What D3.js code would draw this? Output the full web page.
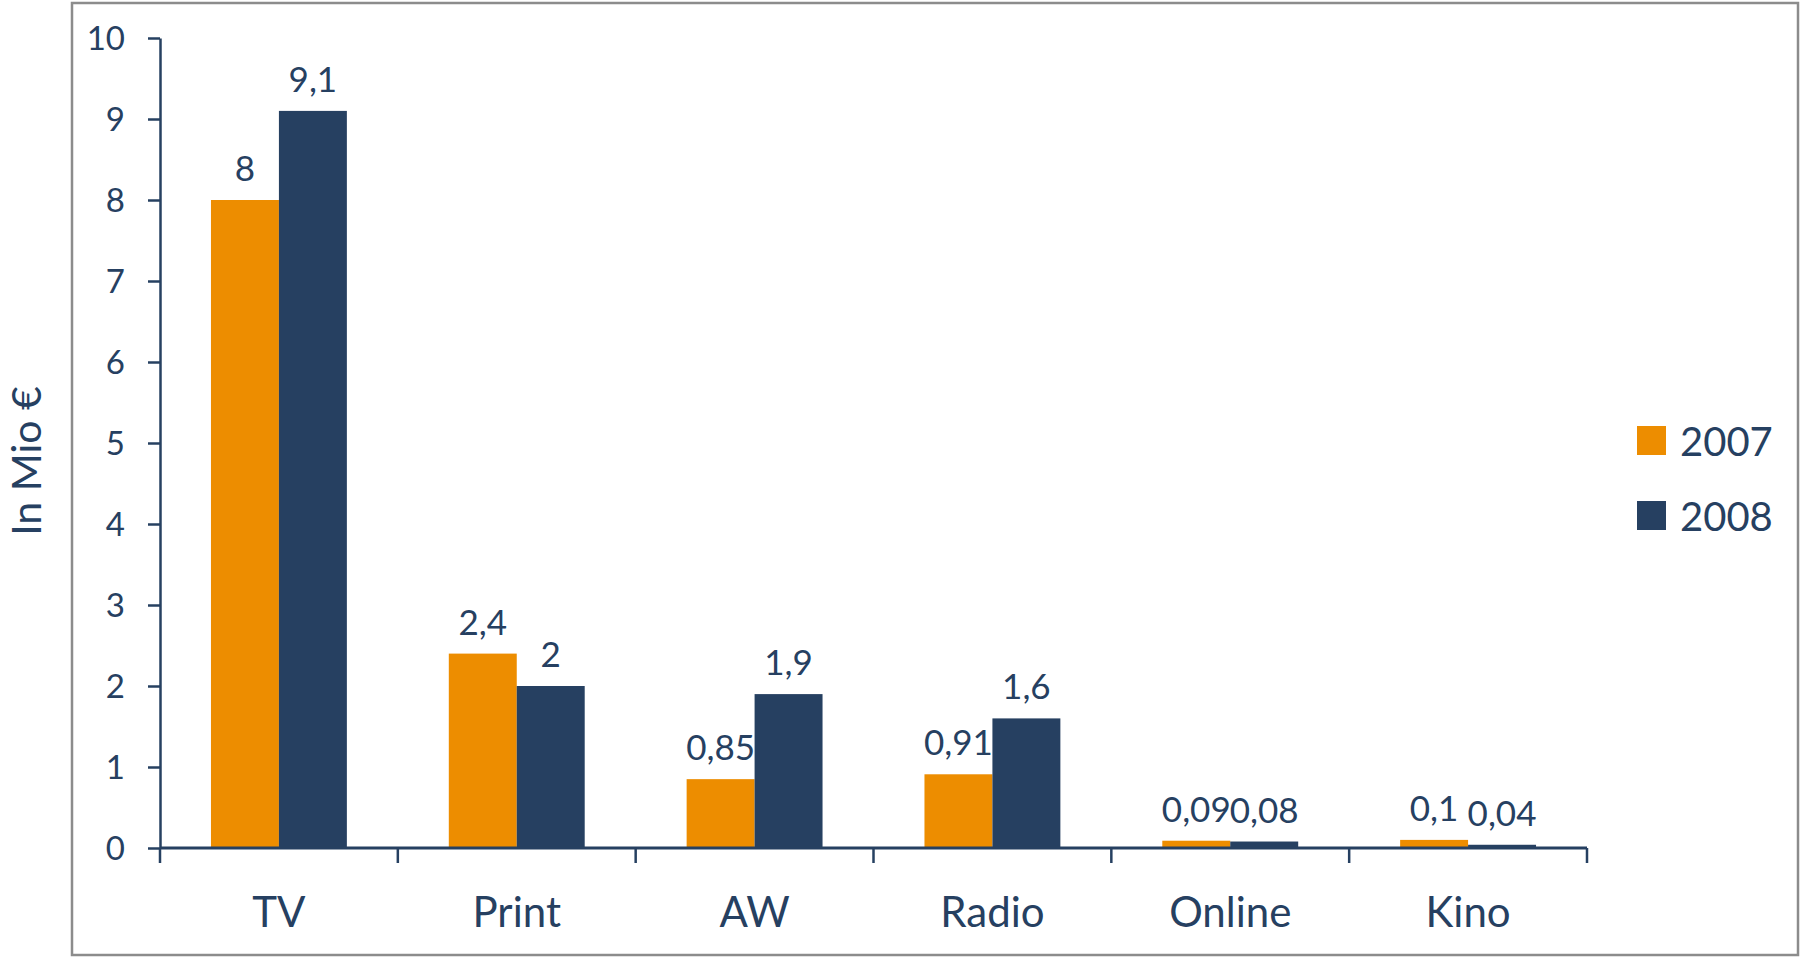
<!DOCTYPE html>
<html>
<head>
<meta charset="utf-8">
<style>
  body { margin: 0; background: #fff; }
  text { font-family: Lato, "Open Sans", sans-serif; fill: #264061; }
</style>
</head>
<body>
<script src="https://d3js.org/d3.v7.min.js"></script>
<script>
var categories = ["TV", "Print", "AW", "Radio", "Online", "Kino"];
var years = ["2007", "2008"];
var values2007 = [8, 2.4, 0.85, 0.91, 0.09, 0.1];
var values2008 = [9.1, 2, 1.9, 1.6, 0.08, 0.04];
var yTicks = [0, 1, 2, 3, 4, 5, 6, 7, 8, 9, 10];

var colors = {"2007": "#ed8d00", "2008": "#264061"};
var ink = "#264061";

var W = 1800, H = 957;
var plot = {left: 160, right: 1587, top: 38, bottom: 848};

var svg = d3.select("body").append("svg")
    .attr("width", W)
    .attr("height", H);

// outer frame
svg.append("rect")
    .attr("x", 72).attr("y", 3)
    .attr("width", 1726).attr("height", 952)
    .attr("fill", "#fff")
    .attr("stroke", "#8c8c8c")
    .attr("stroke-width", 2.5);

var x0 = d3.scaleBand().domain(categories).range([plot.left, plot.right]);
var x1 = d3.scaleBand().domain(years).range([0, x0.bandwidth()]).paddingOuter(0.75);
var y = d3.scaleLinear().domain([0, 10]).range([plot.bottom, plot.top]);

var fmt = d3.formatLocale({decimal: ",", thousands: ".", grouping: [3], currency: ["", "€"]}).format(".2~f");

var rows = categories.map(function(c, i) {
    return {cat: c, vals: [{year: "2007", v: values2007[i]}, {year: "2008", v: values2008[i]}]};
});

// bars
var groups = svg.selectAll("g.cat").data(rows).enter().append("g")
    .attr("class", "cat")
    .attr("transform", function(d) { return "translate(" + x0(d.cat) + ",0)"; });

groups.selectAll("rect").data(function(d) { return d.vals; }).enter().append("rect")
    .attr("x", function(d) { return x1(d.year); })
    .attr("y", function(d) { return y(d.v); })
    .attr("width", x1.bandwidth())
    .attr("height", function(d) { return y(0) - y(d.v); })
    .attr("fill", function(d) { return colors[d.year]; });

// value labels
groups.selectAll("text.val").data(function(d) { return d.vals; }).enter().append("text")
    .attr("class", "val")
    .attr("x", function(d) { return x1(d.year) + x1.bandwidth() / 2; })
    .attr("y", function(d) { return y(d.v) - 19; })
    .attr("text-anchor", "middle")
    .style("font-size", "35px")
    .text(function(d) { return fmt(d.v); });

// y axis
var yAxis = d3.axisLeft(y).tickValues(yTicks).tickSize(12).tickSizeOuter(0).tickPadding(23)
    .tickFormat(d3.format("d"));
var gy = svg.append("g")
    .attr("transform", "translate(" + plot.left + ",0)")
    .call(yAxis);
gy.select(".domain").attr("stroke", ink).attr("stroke-width", 2.5);
gy.selectAll(".tick line").attr("stroke", ink).attr("stroke-width", 2.5);
gy.selectAll(".tick text").style("font-size", "33px").attr("fill", ink).attr("dy", "0.36em");

// x axis line and boundary ticks
svg.append("line")
    .attr("x1", plot.left).attr("x2", plot.right)
    .attr("y1", y(0)).attr("y2", y(0))
    .attr("stroke", ink).attr("stroke-width", 3);

var bounds = categories.map(function(c) { return x0(c); }).concat([plot.right]);
svg.selectAll("line.xt").data(bounds).enter().append("line")
    .attr("class", "xt")
    .attr("x1", function(d) { return d; }).attr("x2", function(d) { return d; })
    .attr("y1", y(0)).attr("y2", y(0) + 15)
    .attr("stroke", ink).attr("stroke-width", 2.5);

svg.selectAll("text.xl").data(categories).enter().append("text")
    .attr("class", "xl")
    .attr("x", function(d) { return x0(d) + x0.bandwidth() / 2; })
    .attr("y", 927)
    .attr("text-anchor", "middle")
    .style("font-size", "42px")
    .text(function(d) { return d; });

// y title
svg.append("text")
    .attr("transform", "translate(41,461) rotate(-90)")
    .attr("text-anchor", "middle")
    .style("font-size", "41px")
    .text("In Mio €");

// legend
var legend = svg.selectAll("g.leg").data(years).enter().append("g")
    .attr("class", "leg")
    .attr("transform", function(d, i) { return "translate(1637," + (426 + i * 75) + ")"; });
legend.append("rect")
    .attr("width", 29).attr("height", 29)
    .attr("fill", function(d) { return colors[d]; });
legend.append("text")
    .attr("x", 43).attr("y", 30)
    .style("font-size", "40px")
    .text(function(d) { return d; });
</script>
</body>
</html>
